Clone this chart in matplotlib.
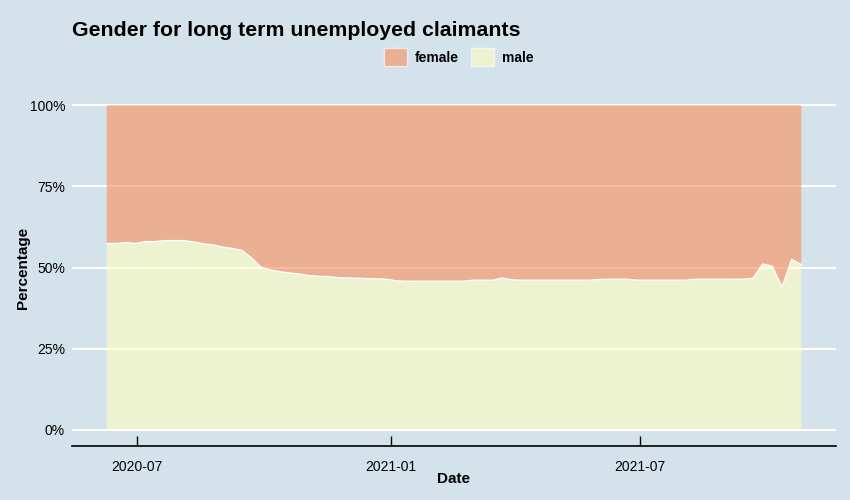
import matplotlib
matplotlib.use("Agg")
import matplotlib.pyplot as plt
import matplotlib.dates as mdates
import numpy as np
import pandas as pd

# weekly share of long term unemployed claimants who are male (%)
start_date = "2020-06-09"
male_pct = [57.4, 57.4, 57.7, 57.4, 58.0, 58.0, 58.3, 58.3, 58.3, 57.9,
            57.3, 57.0, 56.3, 55.9, 55.3, 53.0, 50.1, 49.2, 48.7, 48.3,
            48.0, 47.5, 47.3, 47.2, 46.9, 46.8, 46.7, 46.6, 46.5, 46.4,
            45.9, 45.8, 45.8, 45.8, 45.8, 45.8, 45.8, 45.8, 46.1, 46.1,
            46.1, 46.8, 46.2, 46.1, 46.1, 46.1, 46.1, 46.1, 46.1, 46.1,
            46.1, 46.3, 46.4, 46.4, 46.4, 46.1, 46.1, 46.1, 46.1, 46.1,
            46.1, 46.4, 46.4, 46.4, 46.4, 46.4, 46.4, 46.7, 51.1, 50.4,
            44.0, 52.5, 50.9]
dates = pd.date_range(start_date, periods=len(male_pct), freq="7D")
male = np.array(male_pct) / 100
female = 1 - male

series = ["female", "male"]
fill_colors = {"female": "#FC8D59", "male": "#FFFFBF"}
bg = "#D4E3EB"
x_ticks = ["2020-07-01", "2021-01-01", "2021-07-01"]

plt.rcParams["font.family"] = ["Liberation Sans", "DejaVu Sans"]

fig = plt.figure(figsize=(8.5, 5), dpi=100, facecolor=bg)
ax = fig.add_axes([72 / 850, 1 - 446 / 500, (836 - 72) / 850, (446 - 89) / 500])
ax.set_facecolor(bg)

# grid under the semi-transparent areas
ax.set_axisbelow(True)
ax.yaxis.grid(True, color="white", lw=1.5)
ax.xaxis.grid(False)

ax.stackplot(dates, male, female,
             colors=[fill_colors["male"], fill_colors["female"]],
             alpha=0.6, lw=0)
ax.plot(dates, male, color="white", lw=0.9)

span = dates[-1] - dates[0]
ax.set_xlim(dates[0] - span * 0.05, dates[-1] + span * 0.05)
ax.set_ylim(-0.05, 1.05)

ax.set_yticks([0, 0.25, 0.5, 0.75, 1.0])
ax.set_yticklabels(["0%", "25%", "50%", "75%", "100%"])
ax.set_xticks(pd.to_datetime(x_ticks))
ax.xaxis.set_major_formatter(mdates.DateFormatter("%Y-%m"))

for s in ["top", "right", "left"]:
    ax.spines[s].set_visible(False)
ax.spines["bottom"].set_color("black")
ax.spines["bottom"].set_linewidth(1.2)
ax.tick_params(axis="x", direction="in", length=7, width=1, colors="black",
               labelsize=10, pad=10)
ax.tick_params(axis="y", length=0, labelsize=10, pad=5)

ax.set_xlabel("Date", fontsize=11, fontweight="bold", labelpad=-1.5)
ax.set_ylabel("Percentage", fontsize=11, fontweight="bold", labelpad=0)

fig.text(72 / 850, 1 - 30 / 500, "Gender for long term unemployed claimants",
         fontsize=15.3, fontweight="bold", va="center", ha="left")

handles = [plt.Rectangle((0, 0), 1, 1, facecolor=fill_colors[s], alpha=0.6,
                         edgecolor="white", lw=1) for s in series]
leg = fig.legend(handles, series, loc="center", bbox_to_anchor=(459 / 850, 1 - 57 / 500),
                 ncol=2, frameon=False, handlelength=1.6, handleheight=1.6,
                 columnspacing=0.9, handletextpad=0.6,
                 prop={"weight": "bold", "size": 10})

fig.savefig("out.png", dpi=100, facecolor=bg)
